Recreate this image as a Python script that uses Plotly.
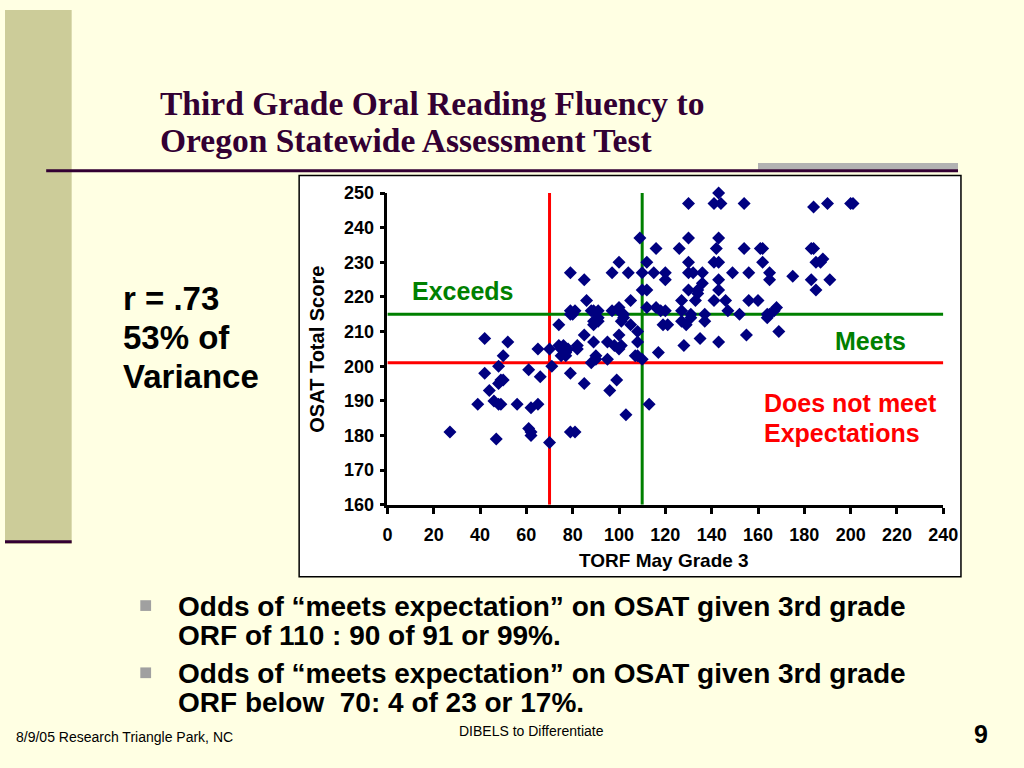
import plotly.graph_objects as go

# ---- data ----
torf = [27, 39, 42, 42, 44, 46, 48, 49, 47, 48, 49, 50, 48, 50, 52, 56, 61, 61, 62, 62,
        62, 65, 65, 66, 70, 70, 71, 74, 74, 75, 75, 76, 77, 77, 78, 79, 79, 79, 81, 79,
        79, 80, 81, 82, 82, 85, 85, 85, 86, 88, 88, 89, 89, 89, 89, 90, 90, 91, 91, 91,
        95, 95, 96, 97, 97, 98, 99, 100, 100, 100, 100, 100, 101, 101, 102, 102, 103, 104, 105, 105,
        107, 108, 108, 108, 109, 110, 110, 110, 112, 112, 112, 113, 115, 116, 116, 117, 118, 119, 120, 120,
        120, 121, 126, 127, 127, 127, 128, 129, 130, 130, 130, 130, 130, 131, 131, 132, 133, 134, 134, 135,
        136, 136, 137, 137, 141, 141, 141, 142, 143, 143, 143, 143, 143, 143, 144, 146, 147, 149, 152, 154,
        154, 155, 156, 156, 160, 162, 161, 162, 165, 165, 164, 164, 165, 167, 168, 169, 175, 183, 183, 184,
        184, 185, 185, 187, 188, 190, 191, 201, 200]
osat = [181, 189, 208, 198, 193, 190, 189, 189, 179, 195, 196, 196, 200, 203, 207, 189, 199, 182, 180, 181,
        188, 189, 205, 197, 205, 178, 200, 212, 206, 205, 203, 206, 204, 203, 205, 198, 227, 181, 181, 216,
        215, 215, 216, 206, 205, 225, 209, 195, 219, 201, 216, 216, 213, 212, 207, 203, 202, 216, 213, 214,
        207, 202, 193, 227, 216, 206, 196, 230, 217, 216, 209, 205, 213, 206, 215, 214, 186, 227, 212, 219,
        203, 210, 207, 203, 237, 227, 222, 202, 230, 222, 217, 189, 227, 234, 217, 204, 216, 212, 227, 225,
        216, 212, 234, 219, 216, 213, 206, 212, 247, 237, 230, 227, 222, 215, 214, 227, 219, 221, 222, 208,
        227, 224, 215, 213, 247, 230, 219, 234, 250, 237, 230, 225, 222, 207, 247, 219, 216, 227, 215, 247,
        234, 209, 227, 219, 219, 234, 234, 230, 227, 225, 215, 214, 215, 216, 217, 210, 226, 234, 225, 234,
        246, 222, 230, 230, 231, 247, 225, 247, 247]

x_ticks = [0, 20, 40, 60, 80, 100, 120, 140, 160, 180, 200, 220, 240]
y_ticks = [160, 170, 180, 190, 200, 210, 220, 230, 240, 250]
orf_cuts = [70, 110]          # vertical reference lines (red, green)
osat_cuts = [201, 215]        # horizontal reference lines (red, green)
cut_colors = ["#FF0000", "#008000"]

W, H = 1024, 768
def px(x): return x / W
def py(y): return 1 - y / H

fig = go.Figure()
fig.add_trace(go.Scatter(x=torf, y=osat, mode="markers",
                         marker=dict(symbol="diamond", size=10, color="#000080"),
                         cliponaxis=False, showlegend=False, hoverinfo="x+y"))

shapes = []
# slide decorations
shapes.append(dict(type="rect", xref="paper", yref="paper", x0=0, x1=px(68), y0=py(548), y1=1,
                   fillcolor="#CCCC99", line=dict(width=0), layer="below"))
shapes.append(dict(type="line", xref="paper", yref="paper", x0=0, x1=px(68), y0=py(546), y1=py(546),
                   line=dict(color="#330033", width=3), layer="below"))
shapes.append(dict(type="rect", xref="paper", yref="paper", x0=px(768), x1=px(972), y0=py(164), y1=py(157),
                   fillcolor="#B2B2B2", line=dict(width=0), layer="below"))
shapes.append(dict(type="line", xref="paper", yref="paper", x0=px(42), x1=px(972), y0=py(165), y1=py(165),
                   line=dict(color="#330033", width=3), layer="below"))
# chart box
shapes.append(dict(type="rect", xref="paper", yref="paper", x0=px(300), x1=px(975), y0=py(582), y1=py(170),
                   fillcolor="white", line=dict(color="black", width=1.5), layer="below"))
# bullet squares
for yb in (606, 675):
    shapes.append(dict(type="rect", xref="paper", yref="paper", x0=px(138), x1=px(149),
                       y0=py(yb + 11), y1=py(yb), fillcolor="#A0A0A0", line=dict(width=0)))
# reference lines
for xv, c in zip(orf_cuts, cut_colors):
    shapes.append(dict(type="line", xref="x", yref="y", x0=xv, x1=xv, y0=160, y1=250,
                       line=dict(color=c, width=3), layer="below"))
for yv, c in zip(osat_cuts, cut_colors):
    shapes.append(dict(type="line", xref="x", yref="y", x0=0, x1=240, y0=yv, y1=yv,
                       line=dict(color=c, width=3), layer="below"))

ann = []
def text(x, y, t, size, color="black", family="Liberation Sans", bold=True, xanchor="left", angle=0):
    ann.append(dict(xref="paper", yref="paper", x=px(x), y=py(y), text=(f"<b>{t}</b>" if bold else t),
                    showarrow=False, xanchor=xanchor, yanchor="middle", textangle=angle,
                    font=dict(size=size, color=color, family=family)))

text(156, 96, "Third Grade Oral Reading Fluency to", 33.5, "#330033", "Liberation Serif")
text(156, 134, "Oregon Statewide Assessment Test", 33.5, "#330033", "Liberation Serif")
text(118, 296, "r = .73", 33)
text(118, 336, "53% of", 33)
text(118, 376, "Variance", 33)
text(413, 288, "Exceeds", 25, "#008000")
text(844, 340, "Meets", 25, "#008000")
text(772, 404, "Does not meet", 25, "#FF0000")
text(772, 434, "Expectations", 25, "#FF0000")
text(318, 348, "OSAT Total Score", 20, xanchor="center", angle=-90)
text(672, 565, "TORF May Grade 3", 19, xanchor="center")
text(174, 612, "Odds of “meets expectation” on OSAT given 3rd grade", 28)
text(174, 642, "ORF of 110 : 90 of 91 or 99%.", 28)
text(174, 681, "Odds of “meets expectation” on OSAT given 3rd grade", 28)
text(174, 711, "ORF below  70: 4 of 23 or 17%.", 28)
text(9, 746, "8/9/05 Research Triangle Park, NC", 14, bold=False)
text(537, 740, "DIBELS to Differentiate", 14, bold=False, xanchor="center")
text(995, 743, "9", 25, xanchor="center")

axis_font = dict(family="Liberation Sans", size=18, color="black")
fig.update_layout(
    width=W, height=H, margin=dict(l=0, r=0, t=0, b=0),
    paper_bgcolor="#FFFFE3", plot_bgcolor="rgba(0,0,0,0)",
    shapes=shapes, annotations=ann,
    xaxis=dict(domain=[px(390), px(957)], range=[0, 240], tickvals=x_ticks,
               ticktext=[f"<b>{v}</b>" for v in x_ticks], tickfont=axis_font,
               showgrid=False, zeroline=False, showline=True, linecolor="black", linewidth=2.5,
               ticks="outside", ticklen=6, tickwidth=2.5, tickcolor="black", ticklabelstandoff=6),
    yaxis=dict(domain=[py(508), py(188)], range=[160, 250], tickvals=y_ticks,
               ticktext=[f"<b>{v}</b>" for v in y_ticks], tickfont=axis_font,
               showgrid=False, zeroline=False, showline=True, linecolor="black", linewidth=2.5,
               ticks="outside", ticklen=5, tickwidth=2.5, tickcolor="black", ticklabelstandoff=2),
)
post = ("document.documentElement.style.margin='0';document.documentElement.style.padding='0';"
        "document.body.style.margin='0';document.body.style.padding='0';document.body.style.overflow='hidden';")
fig.write_html("out.html", config={"displayModeBar": False}, post_script=post)
